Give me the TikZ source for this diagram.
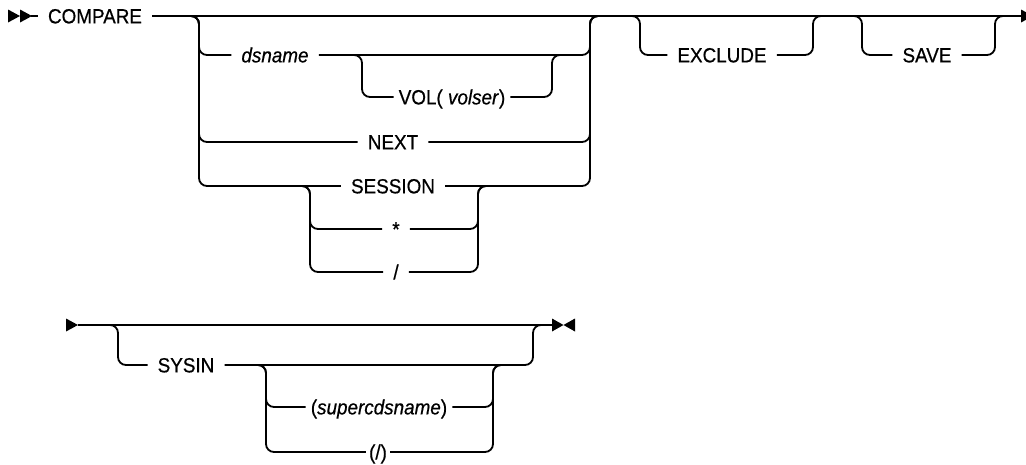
\documentclass[tikz,border=0pt]{standalone}
\usepackage{fontspec}
\setmainfont{Liberation Sans}[FakeStretch=0.92, FakeBold=0.6]
\begin{document}
\begin{tikzpicture}[x=1pt,y=-1pt,
  rail/.style={line width=1.8pt, rounded corners=8pt},
  kw/.style={inner xsep=10pt, inner ysep=0pt, text height=14.7pt, text depth=0pt, font=\fontsize{20.5}{20.5}\selectfont},
  tip/.style={fill=black, draw=none}]
\useasboundingbox (0,0) rectangle (1026,464);

% ---------- text nodes ----------
\node[kw] (compare) at (95,16) {COMPARE};
\node[kw] (dsname) at (275,55) {\textit{dsname}};
\node[kw, inner xsep=5pt] (vol) at (452,97) {VOL( \textit{volser})};
\node[kw] (next) at (393,142) {NEXT};
\node[kw] (session) at (393,186) {SESSION};
\node[kw] (star) at (396,229) {*};
\node[kw] (slash) at (396,272) {/};
\node[kw] (exclude) at (722,55) {EXCLUDE};
\node[kw] (save) at (927,55) {SAVE};
\node[kw] (sysin) at (186,365) {SYSIN};
\node[kw, inner xsep=5pt] (super) at (379,407) {(\textit{supercdsname})};
\node[kw, inner xsep=3pt] (slashp) at (378,452) {(/)};

% ---------- junction coordinates ----------
\coordinate (s1) at (31,16);
\coordinate (e1) at (1021,16);
\coordinate (g1in) at (191,16);  \coordinate (g1l) at (199,16);
\coordinate (g1r) at (590,16);   \coordinate (g1out) at (598,16);
\coordinate (v1in) at (354,55);  \coordinate (v1l) at (362,55);
\coordinate (v1r) at (552,55);   \coordinate (v1out) at (560,55);
\coordinate (q1in) at (302,186); \coordinate (q1l) at (310,186);
\coordinate (q1r) at (478,186);  \coordinate (q1out) at (486,186);
\coordinate (x1in) at (632,16);  \coordinate (x1l) at (640,16);
\coordinate (x1r) at (813,16);   \coordinate (x1out) at (821,16);
\coordinate (w1in) at (854,16);  \coordinate (w1l) at (862,16);
\coordinate (w1r) at (995,16);   \coordinate (w1out) at (1003,16);

\coordinate (s2) at (78,325);
\coordinate (e2) at (552,325);
\coordinate (y1in) at (110,325); \coordinate (y1l) at (118,325);
\coordinate (y1r) at (533,325);  \coordinate (y1out) at (541,325);
\coordinate (z1in) at (258,365); \coordinate (z1l) at (266,365);
\coordinate (z1r) at (493,365);  \coordinate (z1out) at (501,365);

% ---------- line 1 ----------
\fill[tip] (8,9.5) -- (20,16) -- (8,22.5) -- cycle;
\fill[tip] (20,9.5) -- (32,16) -- (20,22.5) -- cycle;
\draw[rail] (s1) -- (compare.west);
\draw[rail] (compare.east) -- (e1);
\fill[tip] (1021,9.5) -- (1033,16) -- (1021,22.5) -- cycle;

% group 1
\foreach \n in {dsname,next,session}{
  \draw[rail] (g1in) -| (g1l |- \n) -- (\n.west);
  \draw[rail] (\n.east) -| (g1r) -- (g1out);
}
% VOL sub-group
\draw[rail] (v1in) -| (v1l |- vol) -- (vol.west);
\draw[rail] (vol.east) -| (v1r) -- (v1out);
% SESSION sub-group
\foreach \n in {star,slash}{
  \draw[rail] (q1in) -| (q1l |- \n) -- (\n.west);
  \draw[rail] (\n.east) -| (q1r) -- (q1out);
}
% EXCLUDE
\draw[rail] (x1in) -| (x1l |- exclude) -- (exclude.west);
\draw[rail] (exclude.east) -| (x1r) -- (x1out);
% SAVE
\draw[rail] (w1in) -| (w1l |- save) -- (save.west);
\draw[rail] (save.east) -| (w1r) -- (w1out);

% ---------- line 2 ----------
\fill[tip] (66,318.5) -- (78,325) -- (66,331.5) -- cycle;
\draw[rail] (s2) -- (e2);
\fill[tip] (552,318.5) -- (563.5,325) -- (552,331.5) -- cycle;
\fill[tip] (575,318.5) -- (563.5,325) -- (575,331.5) -- cycle;

\draw[rail] (y1in) -| (y1l |- sysin) -- (sysin.west);
\draw[rail] (sysin.east) -| (y1r) -- (y1out);
\foreach \n in {super,slashp}{
  \draw[rail] (z1in) -| (z1l |- \n) -- (\n.west);
  \draw[rail] (\n.east) -| (z1r) -- (z1out);
}
\end{tikzpicture}
\end{document}
